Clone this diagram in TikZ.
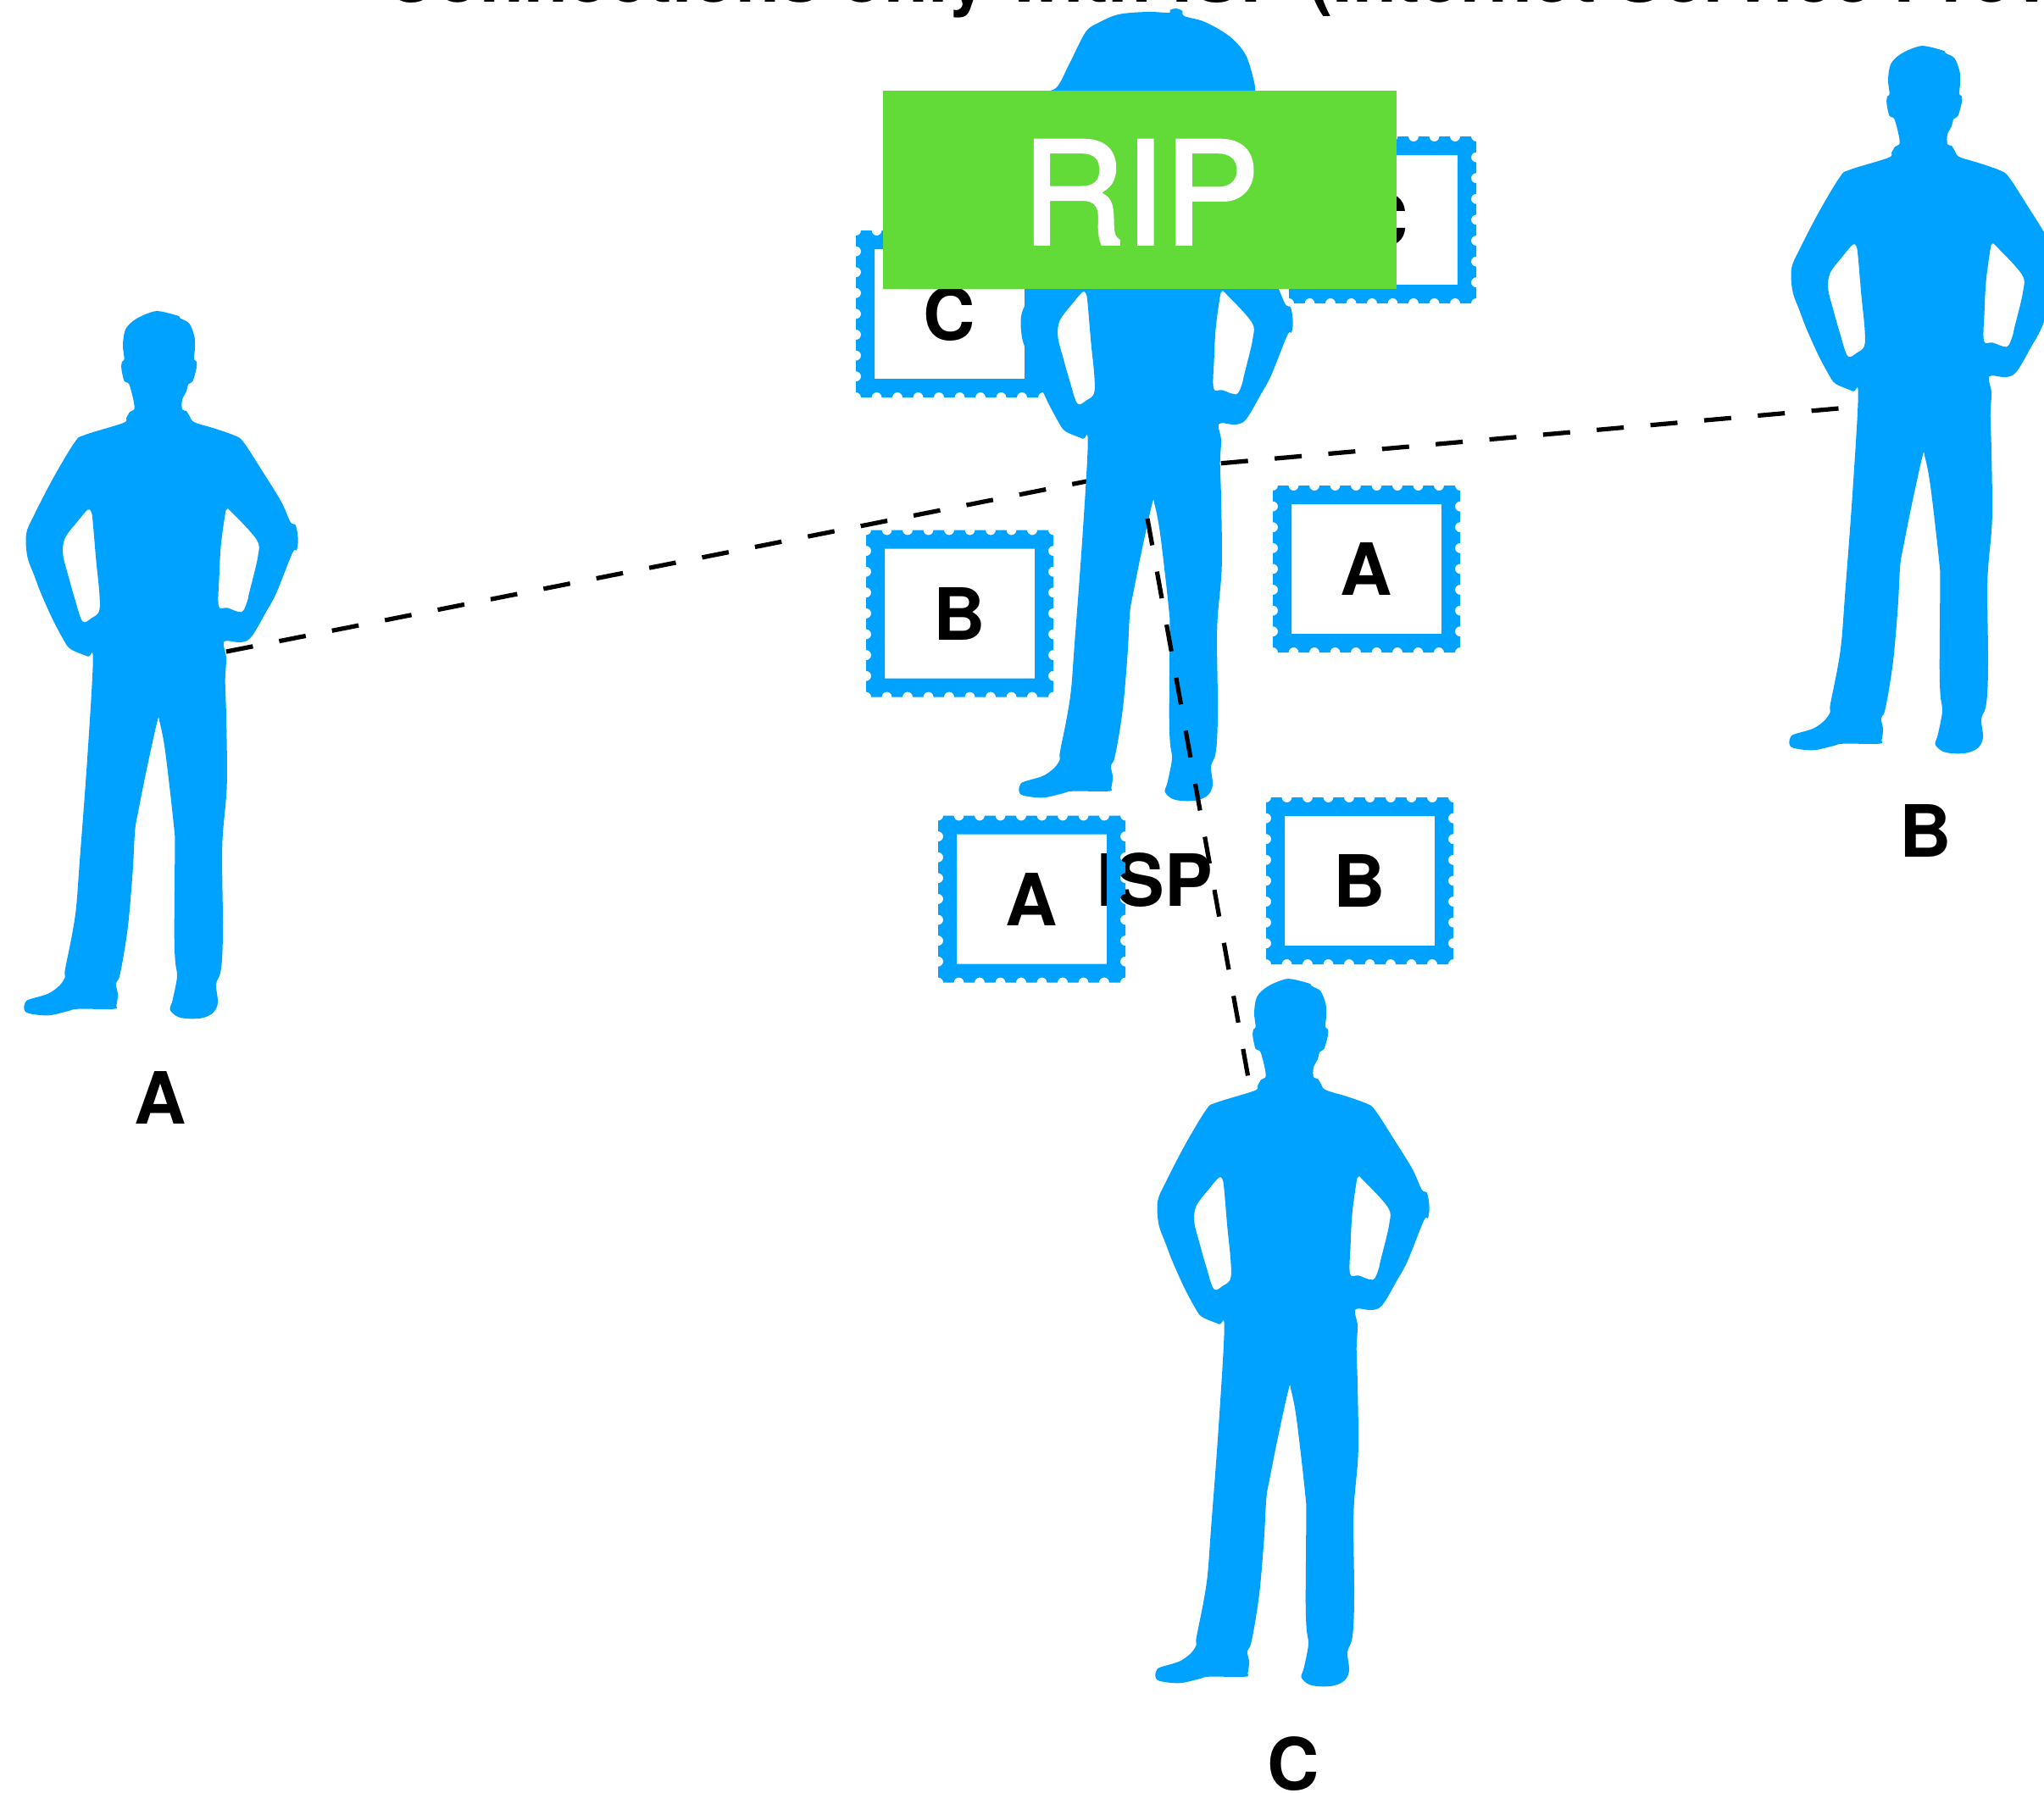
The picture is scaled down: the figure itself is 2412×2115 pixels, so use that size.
\documentclass[tikz,border=0pt]{standalone}
\usepackage{fontspec}
\setmainfont{TeX Gyre Heros}
\newfontfamily\ripfont[FakeBold=2.2]{TeX Gyre Heros}
\definecolor{sketchblue}{RGB}{0,162,255}
\definecolor{ripgreen}{RGB}{98,218,56}
\tikzset{
  dashlink/.style={black,line width=2.6pt,dash pattern=on 16pt off 15.8pt},
  biglabel/.style={inner sep=0pt,outer sep=0pt,anchor=base,font=\fontsize{42.5pt}{50pt}\selectfont\bfseries,text=black},
  silhouette/.pic={
    \fill[sketchblue,even odd rule]
    plot[smooth cycle,tension=.55] coordinates {
    (188.3,367.3)(210,372.7)(212.7,375.7)(223.3,381.7)(229.3,396.7)(230,410)(229,424)(232,426.7)(231.7,435)(227.3,450)(222.3,453.3)(220,461.7)(215,471.7)(215,483.3)(220,485)(224,491.7)(229.3,498.3)(253.3,505.7)(276.7,514)(287.3,521.7)(310,556.7)(331.7,591.7)(342.7,616)(349,620)(351.7,636.7)(350,649.3)(345,652.7)(326,700)(313.3,723.3)(300,746.7)(291.7,756)(281.7,758)(264.3,757.3)(267,776.7)(265.7,803.3)(267,846.7)(267.7,926.7)(262.3,996.7)(263,1086.7)(262.3,1126.7)(260,1148.3)(255,1161.7)(257,1183.3)(251.7,1195)(240,1201)(225,1202.3)(210,1200)(200.7,1191.7)(203.3,1181.7)(207.3,1163.3)(209,1150)(206.7,1133.3)(205.7,1100)(206.3,1000)(205,973.3)(195,886.7)(188.3,851.7)(185.7,851)(173.3,906.7)(163.3,956.7)(159.3,980)(156.7,1026.7)(151.7,1086.7)(146,1126.7)(140.7,1153.3)(136.7,1160.7)(139,1173.3)(137.3,1186.7)(134,1190.7)(91.7,1190.7)(80,1193.3)(56.7,1198.3)(33.3,1195.7)(28.3,1190)(30,1182.7)(35,1179.3)(56.7,1172.7)(70,1163.3)(76.7,1153.3)(76.7,1145)(85,1103.3)(90,1070)(94,1016.7)(102.7,900)(109.7,779.3)(103.3,774.7)(83.3,766)(75,755)(61.7,730)(48.3,700)(40.7,680)(32.3,656.7)(31,630)(40,608.3)(63.3,563.3)(88.3,521.7)(100,513.3)(145,499.3)(149,493.3)(153.3,486)(158.3,483.3)(157.7,473.3)(152.3,453.3)(146.7,450)(143.3,435)(144,426.7)(146.7,424)(145,406.7)(148.3,388.3)(160,376.7)(176.7,369)}
    plot[smooth cycle,tension=.55] coordinates {
    (103.3,601.7)(107.3,603.3)(109.3,613.3)(113.3,660)(117.3,700)(117,721.3)(108.3,729.3)(97.3,733.3)(88.3,706.7)(80.7,680)(74.3,654.3)(76.7,635)(91.7,615)}
    plot[smooth cycle,tension=.55] coordinates {
    (268.3,601.7)(271.7,602.7)(302.7,636.7)(304.3,656.7)(294,700)(291.7,710)(285,722.3)(268.3,717.3)(258,715.3)(258.7,680)(260.7,643.3)(266,605)};
  }
}
\newcommand{\stampbox}[4]{%
  \begin{scope}[shift={(#2,#3)}]
    \fill[sketchblue,even odd rule]
      (6,0)
      \foreach \i in {1,...,8}{ -- ({24.5*\i-6},0) arc (180:0:6) }
      -- (215,0) arc (180:90:6)
      \foreach \j in {1,...,7}{ -- (221,{24.6*\j-6}) arc (-90:-270:6) }
      -- (221,191) arc (-90:-180:6)
      \foreach \i in {8,...,1}{ -- ({24.5*\i+6},197) arc (0:-180:6) }
      -- (6,197) arc (0:-90:6)
      \foreach \j in {7,...,1}{ -- (0,{24.6*\j+6}) arc (90:-90:6) }
      -- (0,6) arc (90:0:6) -- cycle
      (22,22) rectangle (199,175);
    \node[biglabel] (#1) at (110.5,129.5) {#4};
  \end{scope}}
\begin{document}
\begin{tikzpicture}[x=0.5pt,y=-0.5pt]
\useasboundingbox (0,0) rectangle (2412,2115);
\fill[white] (0,0) rectangle (2412,2115);
\clip (0,0) rectangle (2412,2115);

% named ends of the links
\coordinate (aEnd) at (267,769);
\coordinate (hub) at (1348,555);
\coordinate (bEnd) at (2169.5,482);
\coordinate (ispEnd) at (1354,612);
\coordinate (cEnd) at (1473,1272);

\draw[dashlink] (aEnd) -- (hub);
\draw[dashlink] (bEnd) -- (hub);

% title, cut by the top edge
\node[biglabel,anchor=base west] (title) at (453,2) {Connections only with ISP (Internet Service Providers)};

% ISP label lies under the stamp frame
\node[biglabel,anchor=base west] (ispLabel) at (1294,1069) {ISP};

% stamps
\stampbox{stampCleft}{1010}{272}{C}
\stampbox{stampCright}{1521}{161}{C}
\stampbox{stampBleft}{1022}{625.5}{B}
\stampbox{stampAright}{1502}{573}{A}
\stampbox{stampAlow}{1107}{962.5}{A}
\stampbox{stampBlow}{1494}{941}{B}

% people
\pic at (0,0) {silhouette};
\pic at (2083,-313) {silhouette};
\pic at (1335,788) {silhouette};
\pic at (1174,-257) {silhouette};

% dome above the centre figure
\fill[sketchblue] plot[smooth,tension=.55] coordinates {
  (1225,108)(1246,104)(1262,75)(1281,38)(1296,27)(1320,17)(1354,14)(1379,15)(1380.5,12)(1387,10)(1395,12.7)(1397.5,19)(1422,26)(1451,43)(1470,65)(1480,97)(1481,108)} -- (1481,130) -- (1225,130) -- cycle;

% RIP box
\node[fill=ripgreen,minimum width=303pt,minimum height=117pt,inner sep=0pt,outer sep=0pt] (rip) at (1345,224) {};
\node[inner sep=0pt,outer sep=0pt,anchor=base,text=white,font=\fontsize{84pt}{90pt}\selectfont\ripfont] (ripText) at (1346,288) {RIP};

% person labels
\node[biglabel] (labelA) at (189,1326) {A};
\node[biglabel] (labelB) at (2272,1011) {B};
\node[biglabel] (labelC) at (1526,2112) {C};

% link to C runs over the centre figure
\draw[dashlink] (ispEnd) -- (cEnd);
\end{tikzpicture}
\end{document}
